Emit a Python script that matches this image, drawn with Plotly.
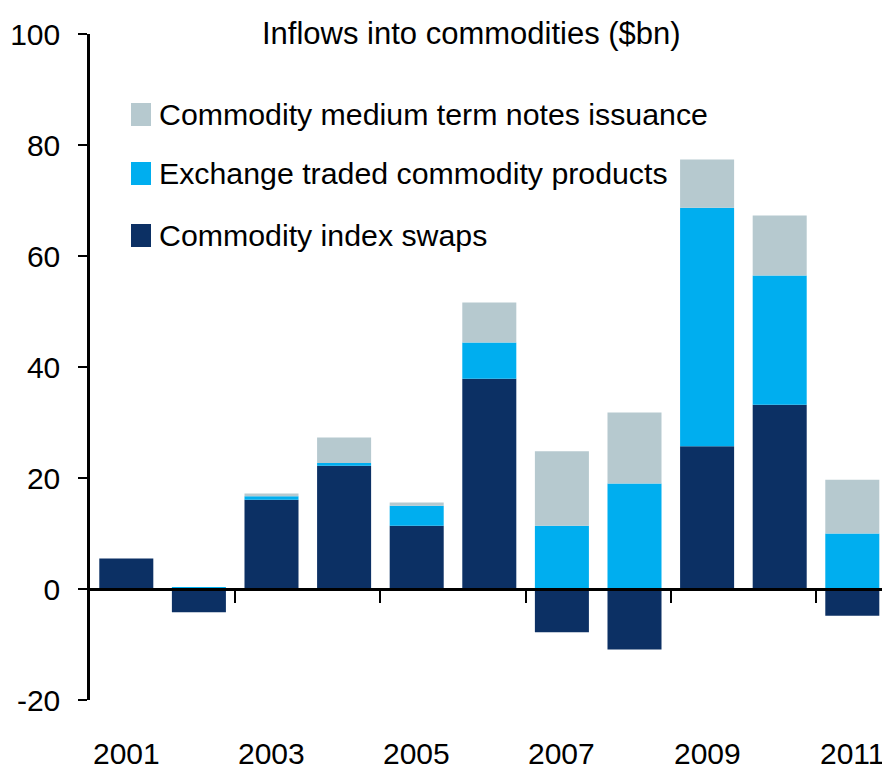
import plotly.graph_objects as go

# Annual inflows into commodities, $bn
years = ["2001", "2002", "2003", "2004", "2005", "2006", "2007", "2008", "2009", "2010", "2011"]
index_swaps = [5.5, -4.2, 16.1, 22.2, 11.4, 37.9, -7.8, -10.9, 25.7, 33.2, -4.8]
etp = [0.0, 0.3, 0.6, 0.5, 3.6, 6.5, 11.4, 19.0, 43.0, 23.3, 10.0]
mtn = [0.0, 0.0, 0.5, 4.6, 0.6, 7.2, 13.4, 12.8, 8.7, 10.8, 9.7]

series_names = [
    "Commodity index swaps",
    "Exchange traded commodity products",
    "Commodity medium term notes issuance",
]
series_values = [index_swaps, etp, mtn]
series_colors = ["#0C3064", "#00AEEF", "#B6C9CF"]

y_ticks = [-20, 0, 20, 40, 60, 80, 100]
y_tick_text = ["-20", "0", "20", "40", "60", "80", "100"]
x_label_years = ["2001", "2003", "2005", "2007", "2009", "2011"]

FONT = "Liberation Sans, Arial, sans-serif"
W, H = 882, 770
ML, MR, MT, MB = 90, 0, 34, 70
PW, PH = W - ML - MR, H - MT - MB

xpos = list(range(len(years)))
x_range = [-0.5, -0.5 + PW / 72.6]

fig = go.Figure()
for name, vals, col in zip(series_names, series_values, series_colors):
    fig.add_trace(go.Bar(x=xpos, y=vals, name=name, marker=dict(color=col, line=dict(width=0)),
                         showlegend=False))


def px_x(p):
    return (p - ML) / PW


def px_y(p):
    return (H - MB - p) / PH


# Legend drawn as coloured squares with labels (top item = last series)
shapes = []
annotations = []
legend_rows = [114.5, 173.5, 235.5]
for row_y, name, col in zip(legend_rows, series_names[::-1], series_colors[::-1]):
    shapes.append(dict(type="rect", xref="paper", yref="paper",
                       x0=px_x(131), x1=px_x(151), y0=px_y(row_y + 11.5), y1=px_y(row_y - 11.5),
                       fillcolor=col, line=dict(width=0)))
    annotations.append(dict(text=name, xref="paper", yref="paper", x=px_x(157), y=px_y(row_y),
                            xanchor="left", yanchor="middle", showarrow=False,
                            font=dict(family=FONT, size=30.3, color="#000000")))

annotations.append(dict(text="Inflows into commodities ($bn)", xref="paper", yref="paper",
                        x=px_x(471), y=px_y(33), xanchor="center", yanchor="middle",
                        showarrow=False, font=dict(family=FONT, size=31, color="#000000")))

# Year labels along the bottom edge
for yr in x_label_years:
    annotations.append(dict(text=yr, xref="x", yref="paper", x=years.index(yr), y=px_y(753),
                            xanchor="center", yanchor="middle", showarrow=False,
                            font=dict(family=FONT, size=30, color="#000000")))

zero_pos = (0 - y_ticks[0]) / (y_ticks[-1] - y_ticks[0])

fig.update_layout(
    template="none",
    width=W, height=H,
    margin=dict(l=ML, r=MR, t=MT, b=MB, pad=0),
    barmode="relative",
    bargap=0.256,
    plot_bgcolor="white",
    paper_bgcolor="white",
    shapes=shapes,
    annotations=annotations,
    xaxis=dict(
        range=x_range, anchor="free", position=zero_pos, side="bottom",
        tickmode="array", tickvals=[i + 0.5 for i in range(1, len(years) - 1, 2)],
        showticklabels=False, showline=True, linecolor="#000000", linewidth=3,
        ticks="outside", ticklen=12, tickwidth=2, tickcolor="#000000",
        showgrid=False, zeroline=False, automargin=False,
    ),
    yaxis=dict(
        range=[y_ticks[0], y_ticks[-1]], tickmode="array", tickvals=y_ticks, ticktext=y_tick_text,
        showline=True, linecolor="#000000", linewidth=2.5,
        ticks="outside", ticklen=9, tickwidth=2, tickcolor="#000000",
        showgrid=False, zeroline=False, automargin=False,
        ticklabelstandoff=12,
        tickfont=dict(family=FONT, size=30, color="#000000"),
    ),
)

fig.write_html("out.html", config={"displayModeBar": False})
